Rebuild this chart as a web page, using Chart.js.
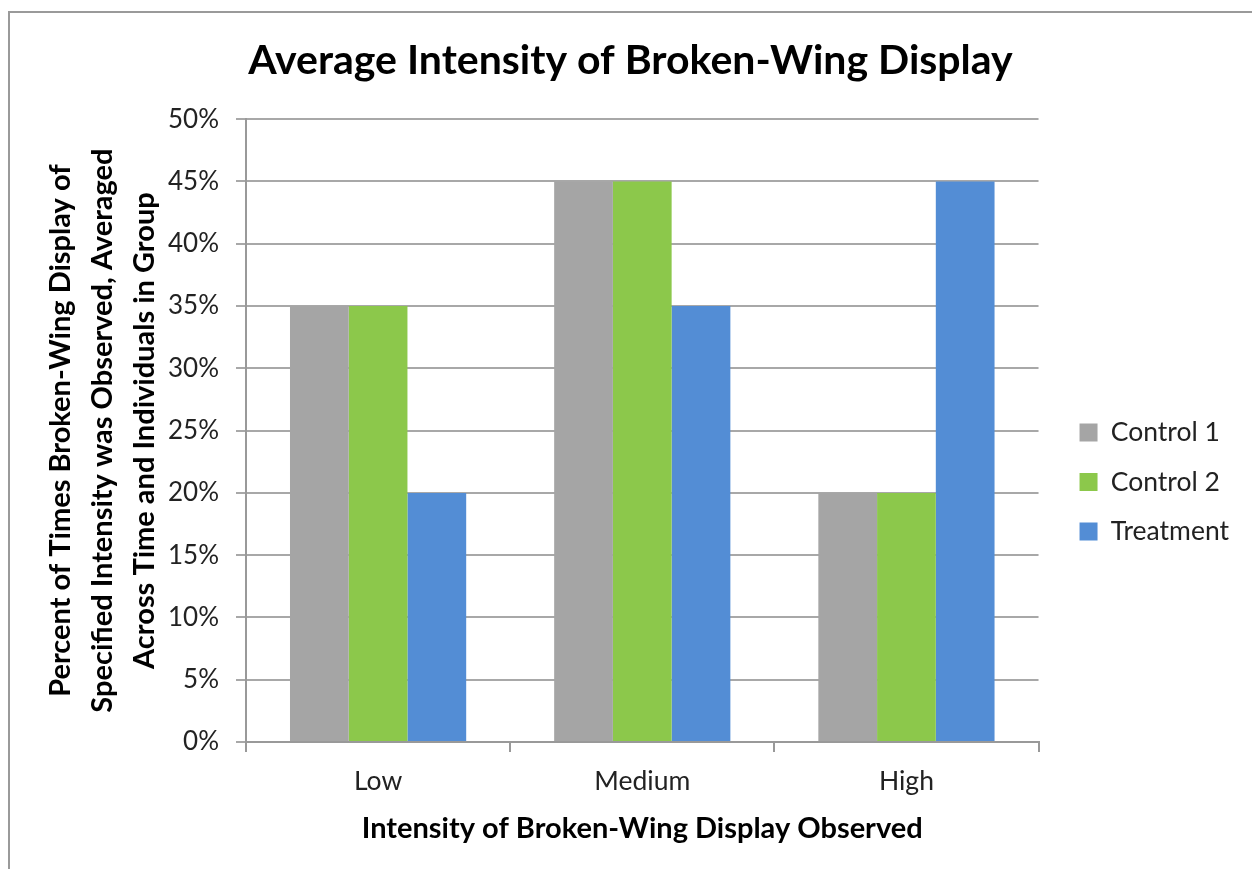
<!DOCTYPE html>
<html>
<head>
<meta charset="utf-8">
<script src="https://cdn.jsdelivr.net/npm/chart.js@4.4.1/dist/chart.umd.min.js"></script>
<style>
  html, body { margin: 0; padding: 0; background: #fff; }
  #wrap { position: relative; width: 1252px; height: 869px; }
  #frame { position: absolute; left: 8px; top: 11px; width: 1300px; height: 900px;
           border-left: 2px solid #9a9a9a; border-top: 2px solid #9a9a9a; pointer-events: none; }
  canvas { position: absolute; left: 0; top: 0; }
</style>
</head>
<body>
<div id="wrap">
  <canvas id="c" width="1252" height="869"></canvas>
  <div id="frame"></div>
</div>
<script>
const categories = ["Low", "Medium", "High"];
const control1 = [0.35, 0.45, 0.20];
const control2 = [0.35, 0.45, 0.20];
const treatment = [0.20, 0.35, 0.45];
const seriesNames = ["Control 1", "Control 2", "Treatment"];
const seriesColors = ["#A5A5A5", "#8CC84B", "#538DD5"];
const yTitleLines = [
  "Percent of Times Broken-Wing Display of",
  "Specified Intensity was Observed, Averaged",
  "Across Time and Individuals in Group"
];
const chartTitle = "Average Intensity of Broken-Wing Display";
const xTitle = "Intensity of Broken-Wing Display Observed";

const FONT = "Lato, 'Open Sans', sans-serif";
const seriesData = [control1, control2, treatment];

// nudges the legend block to where the reference places it
const legendShift = {
  id: "legendShift",
  afterLayout(chart) {
    const lg = chart.legend;
    if (!lg) return;
    const dx = 18, dy = 41;
    lg.left += dx; lg.right += dx;
    lg.top += dy; lg.bottom += dy;
  }
};

new Chart(document.getElementById("c"), {
  type: "bar",
  data: {
    labels: categories,
    datasets: seriesNames.map((n, i) => ({
      label: n,
      data: seriesData[i],
      backgroundColor: seriesColors[i],
      borderWidth: 0,
      categoryPercentage: 0.667,
      barPercentage: 1.0
    }))
  },
  plugins: [legendShift],
  options: {
    responsive: false,
    animation: false,
    layout: { padding: { left: 40, top: 36, right: 31, bottom: 23 } },
    plugins: {
      title: {
        display: true,
        text: chartTitle,
        color: "#000",
        font: { family: FONT, size: 41, weight: "bold", lineHeight: 1.2 },
        padding: { top: 0, bottom: 34 }
      },
      legend: {
        position: "right",
        align: "center",
        labels: {
          color: "#222",
          font: { family: FONT, size: 26.5 },
          boxWidth: 18,
          boxHeight: 18,
          padding: 23
        }
      },
      tooltip: { enabled: false }
    },
    scales: {
      x: {
        offset: true,
        afterFit: s => { s.height = 104; },
        grid: { display: true, drawOnChartArea: false, drawTicks: true, tickLength: 10, offset: true, color: "#999", lineWidth: 2 },
        border: { display: true, color: "#999", width: 2 },
        ticks: { color: "#222", font: { family: FONT, size: 26.5 }, padding: 14 },
        title: {
          display: true,
          text: xTitle,
          color: "#000",
          font: { family: FONT, size: 29, weight: "bold", lineHeight: 1.2 },
          padding: { top: 0, bottom: 0 }
        }
      },
      y: {
        min: 0,
        max: 0.5,
        afterFit: s => { s.width = 206; },
        ticks: {
          stepSize: 0.05,
          color: "#222",
          font: { family: FONT, size: 26 },
          padding: 17,
          callback: v => Math.round(v * 100) + "%"
        },
        grid: { color: "#A8A8A8", lineWidth: 2, tickLength: 10, drawTicks: true },
        border: { display: true, color: "#999", width: 2 },
        title: {
          display: true,
          text: yTitleLines,
          color: "#000",
          font: { family: FONT, size: 29, weight: "bold", lineHeight: 1.45 },
          padding: { top: 0, bottom: 0 }
        }
      }
    }
  }
});
</script>
</body>
</html>
